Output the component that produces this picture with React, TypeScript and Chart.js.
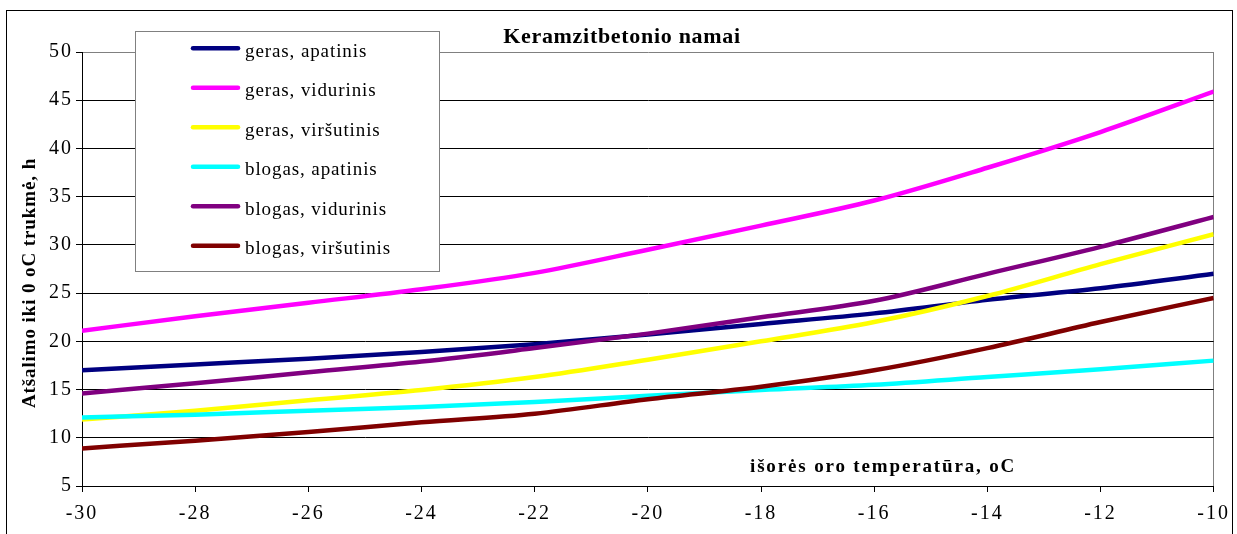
import { useEffect, useRef } from 'react';
import { Chart, registerables } from 'chart.js';

Chart.register(...registerables);

// outside air temperature, °C
const temps = [-30, -28, -26, -24, -22, -20, -18, -16, -14, -12, -10];

// cooling time to 0 °C, h
const gerasApatinis = [17.0, 17.6, 18.2, 18.9, 19.7, 20.7, 21.8, 22.9, 24.3, 25.5, 27.0];
const gerasVidurinis = [21.1, 22.6, 24.0, 25.4, 27.1, 29.5, 32.0, 34.6, 38.0, 41.7, 45.9];
const gerasVirsutinis = [11.9, 12.8, 13.9, 14.95, 16.3, 18.1, 20.0, 22.0, 24.7, 28.0, 31.1];
const blogasApatinis = [12.1, 12.4, 12.8, 13.2, 13.7, 14.35, 14.95, 15.5, 16.3, 17.1, 18.0];
const blogasVidurinis = [14.6, 15.65, 16.8, 17.9, 19.3, 20.8, 22.5, 24.2, 27.0, 29.8, 32.9];
const blogasVirsutinis = [8.9, 9.7, 10.6, 11.6, 12.5, 14.0, 15.3, 17.0, 19.3, 22.0, 24.5];

const seriesNames = [
  'geras, apatinis',
  'geras, vidurinis',
  'geras, viršutinis',
  'blogas, apatinis',
  'blogas, vidurinis',
  'blogas, viršutinis',
];
const seriesValues = [
  gerasApatinis,
  gerasVidurinis,
  gerasVirsutinis,
  blogasApatinis,
  blogasVidurinis,
  blogasVirsutinis,
];
const seriesColors = ['#000080', '#FF00FF', '#FFFF00', '#00FFFF', '#800080', '#800000'];

const chartTitle = 'Keramzitbetonio namai';
const yAxisTitle = 'Atšalimo iki 0 oC trukmė, h';
const xAxisTitle = 'išorės oro temperatūra, oC';

const SERIF = '"Liberation Serif", "Times New Roman", serif';

const decorPlugin = {
  id: 'decor',
  beforeDraw(chart: any) {
    chart.ctx.letterSpacing = '2px';
  },
  afterDatasetsDraw(chart: any) {
    const ctx = chart.ctx as CanvasRenderingContext2D;
    ctx.save();
    // legend box
    ctx.fillStyle = '#ffffff';
    ctx.fillRect(135.5, 31.5, 304, 240);
    ctx.strokeStyle = '#808080';
    ctx.lineWidth = 1;
    ctx.strokeRect(135.5, 31.5, 304, 240);
    (ctx as any).letterSpacing = '0.9px';
    ctx.font = `19px ${SERIF}`;
    ctx.textAlign = 'left';
    ctx.textBaseline = 'alphabetic';
    seriesNames.forEach((name, i) => {
      const y = 48.3 + i * 39.5;
      ctx.strokeStyle = seriesColors[i];
      ctx.lineWidth = 4.5;
      ctx.lineCap = 'round';
      ctx.beginPath();
      ctx.moveTo(193, y);
      ctx.lineTo(238, y);
      ctx.stroke();
      ctx.fillStyle = '#000';
      ctx.fillText(name, 245, y + 8.5);
    });
    ctx.restore();
  },
  afterDraw(chart: any) {
    const ctx = chart.ctx as CanvasRenderingContext2D;
    ctx.save();
    (ctx as any).letterSpacing = '0px';
    ctx.strokeStyle = '#000';
    ctx.lineWidth = 1;
    ctx.strokeRect(6.5, 10.5, 1226, 600);

    ctx.fillStyle = '#000';
    // chart title
    (ctx as any).letterSpacing = '0.7px';
    ctx.font = `bold 22px ${SERIF}`;
    ctx.textAlign = 'center';
    ctx.textBaseline = 'alphabetic';
    ctx.fillText(chartTitle, 622, 43);

    // x axis title (inside plot)
    (ctx as any).letterSpacing = '1.85px';
    ctx.font = `bold 19px ${SERIF}`;
    ctx.textAlign = 'left';
    ctx.fillText(xAxisTitle, 750, 472);

    // y axis title
    (ctx as any).letterSpacing = '0.9px';
    ctx.font = `bold 19px ${SERIF}`;
    ctx.translate(30, 283);
    ctx.rotate(-Math.PI / 2);
    ctx.textAlign = 'center';
    ctx.textBaseline = 'middle';
    ctx.fillText(yAxisTitle, 0, 0);
    ctx.restore();
  },
};

export default function App() {
  const canvasRef = useRef<HTMLCanvasElement | null>(null);

  useEffect(() => {
    if (!canvasRef.current) return;
    const chart = new Chart(canvasRef.current, {
      type: 'line',
      data: {
        datasets: seriesValues.map((vals, i) => ({
          label: seriesNames[i],
          data: temps.map((t, j) => ({ x: t, y: vals[j] })),
          borderColor: seriesColors[i],
          backgroundColor: seriesColors[i],
          borderWidth: 4.5,
          pointRadius: 0,
          pointHoverRadius: 0,
          fill: false,
          cubicInterpolationMode: 'monotone' as const,
          order: seriesValues.length - i,
        })),
      },
      options: {
        animation: false,
        responsive: true,
        maintainAspectRatio: false,
        devicePixelRatio: 1,
        layout: { padding: { top: 52, right: 22, left: 0, bottom: 0 } },
        plugins: {
          legend: { display: false },
          title: { display: false },
          tooltip: { enabled: false },
        },
        scales: {
          x: {
            type: 'linear',
            min: -30,
            max: -10,
            ticks: {
              stepSize: 2,
              color: '#000',
              font: { family: SERIF, size: 20 },
              padding: 10,
              maxRotation: 0,
              autoSkip: false,
            },
            grid: {
              color: (c: any) => (c.tick && c.tick.value === -10 ? '#808080' : 'rgba(0,0,0,0)'),
              tickColor: '#000',
              tickLength: 6,
              lineWidth: 1,
            },
            border: { display: true, color: '#000', width: 1 },
            afterFit: (scale: any) => {
              scale.height = 48;
            },
          },
          y: {
            type: 'linear',
            min: 5,
            max: 50,
            ticks: {
              stepSize: 5,
              color: '#000',
              font: { family: SERIF, size: 20 },
              padding: 3,
            },
            grid: {
              color: (c: any) => (c.tick && c.tick.value === 50 ? '#808080' : '#000'),
              tickColor: '#000',
              tickLength: 6,
              lineWidth: 1,
            },
            border: { display: true, color: '#000', width: 1 },
            afterFit: (scale: any) => {
              scale.width = 82;
            },
          },
        },
      },
      plugins: [decorPlugin],
    });
    return () => chart.destroy();
  }, []);

  return (
    <div style={{ position: 'fixed', left: 0, top: 0, width: 1237, height: 534, background: '#fff' }}>
      <canvas ref={canvasRef} />
    </div>
  );
}
